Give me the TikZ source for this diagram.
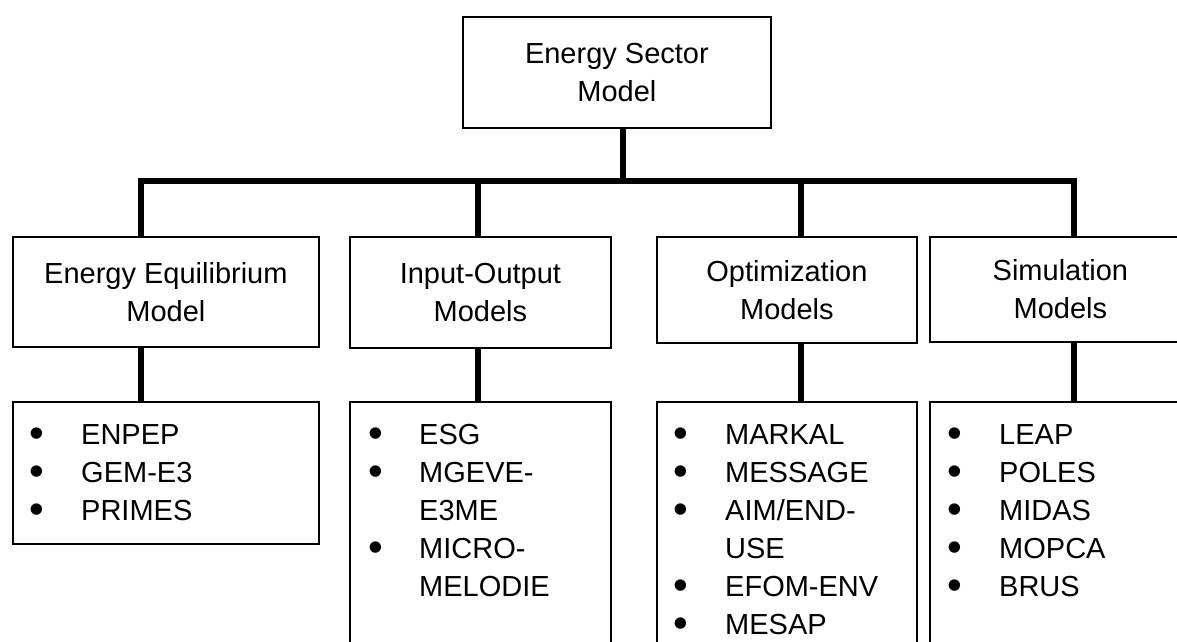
\documentclass[tikz,border=0pt]{standalone}
\usepackage{fontspec}
\setmainfont{Liberation Sans}
\usepackage{array}
\newcommand{\bul}{\makebox[10pt][c]{\raisebox{-2.6pt}{\scalebox{1.45}{\textbullet}}}}
\begin{document}
\begin{tikzpicture}[x=1pt,y=-1pt,
  box/.style={draw, line width=1.8pt, inner sep=0pt, anchor=north west, align=center, font=\fontsize{29}{38}\selectfont},
  conn/.style={line width=6pt, line join=miter, line cap=butt},
  lst/.style={anchor=north west, inner sep=0pt, font=\fontsize{29}{38}\selectfont}]
\useasboundingbox (0,0) rectangle (1177,641);
\clip (0,0) rectangle (1177,641);
% top
\node[box, minimum width=308pt, minimum height=111pt] (top) at (462,16) {Energy Sector\\Model};
% middle row
\node[box, minimum width=306pt, minimum height=110pt] (m1) at (12,236) {Energy Equilibrium\\Model};
\node[box, minimum width=261pt, minimum height=111pt] (m2) at (349,236) {Input-Output\\Models};
\node[box, minimum width=260pt, minimum height=106pt] (m3) at (656,236) {Optimization\\Models};
\node[box, minimum width=261pt, minimum height=105pt] (m4) at (929,236) {Simulation\\Models};
% lower row
\node[box, minimum width=306pt, minimum height=142pt] (l1) at (12,401) {};
\node[box, minimum width=261pt, minimum height=260pt] (l2) at (349,401) {};
\node[box, minimum width=260pt, minimum height=260pt] (l3) at (656,401) {};
\node[box, minimum width=261pt, minimum height=260pt] (l4) at (929,401) {};
% lists
\node[lst] (t1) at (32,418) {\begin{tabular}{@{}p{49pt}@{}l@{}}
\bul & ENPEP\\ \bul & GEM-E3\\ \bul & PRIMES\end{tabular}};
\node[lst] (t2) at (371,418) {\begin{tabular}{@{}p{48pt}@{}l@{}}
\bul & ESG\\ \bul & MGEVE-\\ & E3ME\\ \bul & MICRO-\\ & MELODIE\end{tabular}};
\node[lst] (t3) at (676,418) {\begin{tabular}{@{}p{49pt}@{}l@{}}
\bul & MARKAL\\ \bul & MESSAGE\\ \bul & AIM/END-\\ & USE\\ \bul & EFOM-ENV\\ \bul & MESAP\end{tabular}};
\node[lst] (t4) at (950,418) {\begin{tabular}{@{}p{49pt}@{}l@{}}
\bul & LEAP\\ \bul & POLES\\ \bul & MIDAS\\ \bul & MOPCA\\ \bul & BRUS\end{tabular}};
% connector coordinates
\coordinate (j0) at (623,181);
\coordinate (j1) at (141,181);
\coordinate (j2) at (478,181);
\coordinate (j3) at (801,181);
\coordinate (j4) at (1074,181);
% connectors
\draw[conn] (top.south -| j0) -- (j0);
\draw[conn] (m1.north -| j1) -- (j1) -- (j4) -- (m4.north -| j4);
\draw[conn] (j2) -- (m2.north -| j2);
\draw[conn] (j3) -- (m3.north -| j3);
\draw[conn] (m1.south -| j1) -- (l1.north -| j1);
\draw[conn] (m2.south -| j2) -- (l2.north -| j2);
\draw[conn] (m3.south -| j3) -- (l3.north -| j3);
\draw[conn] (m4.south -| j4) -- (l4.north -| j4);
\end{tikzpicture}
\end{document}
